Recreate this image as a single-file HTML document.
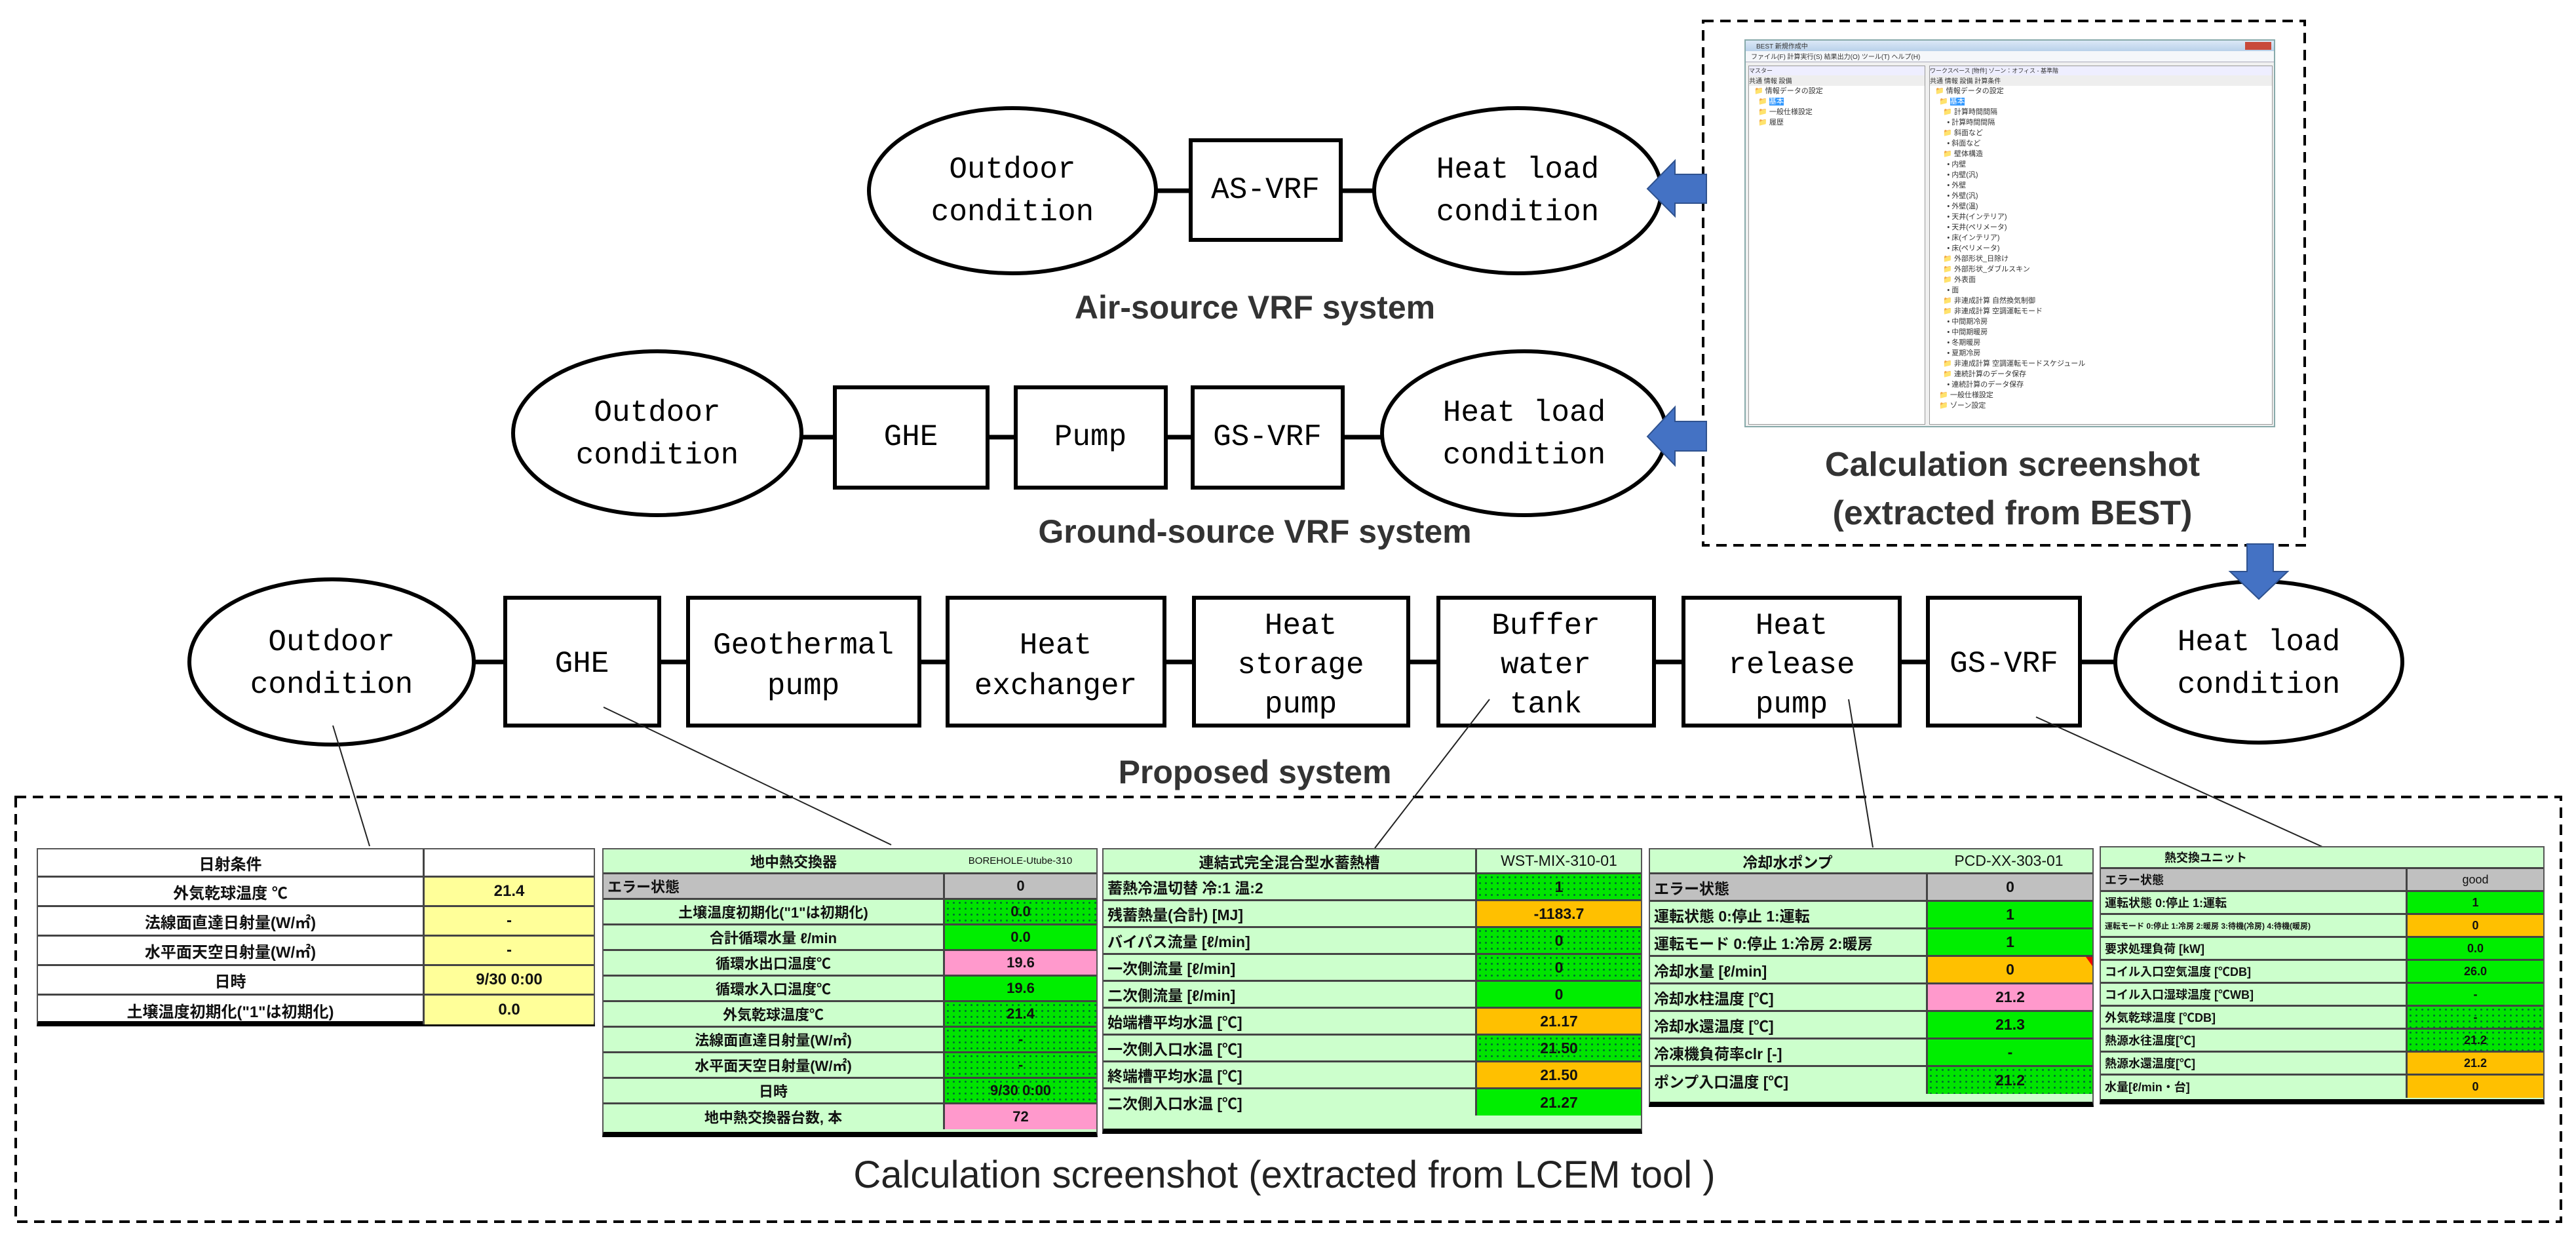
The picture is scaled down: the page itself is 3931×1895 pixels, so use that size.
<!DOCTYPE html>
<html><head><meta charset="utf-8">
<style>
*{margin:0;padding:0;box-sizing:border-box}
body{width:3931px;height:1895px;background:#fff;position:relative;overflow:hidden;font-family:"Liberation Sans","Noto Sans CJK JP",sans-serif}
svg{position:absolute;left:0;top:0}
.t{position:absolute;border:2px solid #555;border-bottom:8px solid #000;font-weight:bold;font-family:"Liberation Sans","Noto Sans CJK JP",sans-serif;color:#111}
.r{display:flex;border-bottom:3px solid #444;align-items:stretch}
.r:last-child{border-bottom:none}
.l{display:flex;align-items:center;justify-content:center;border-right:3px solid #444;white-space:nowrap;overflow:hidden}
.v{display:flex;align-items:center;justify-content:center;flex:1;white-space:nowrap}
.lg{background:#ccffcc}
.gr{background:#00ee00}
.dt{background:radial-gradient(circle,#063 1.2px,transparent 1.8px) 0 0/9px 9px,#00e400}
.pk{background:#ff99cc}
.or{background:#ffc000}
.ye{background:#ffff99}
.gy{background:#c0c0c0}
.left{justify-content:flex-start;padding-left:6px}
.best{position:absolute;left:2662px;top:60px;width:810px;height:592px;background:#f0f0f0;border:2px solid #8aa;font-family:"Liberation Sans","Noto Sans CJK JP",sans-serif;font-size:11px;color:#333}
.tree div{height:16px;line-height:16px;white-space:nowrap}
</style></head><body>
<svg width="3931" height="1895" viewBox="0 0 3931 1895" font-family="Liberation Mono, monospace">
<g stroke="#000" stroke-width="7">
<line x1="1765" y1="291" x2="2097" y2="291"/>
<line x1="1223" y1="667" x2="2109" y2="667"/>
<line x1="723" y1="1010" x2="3228" y2="1010"/>
</g>
<g fill="#fff" stroke="#000" stroke-width="6">
<ellipse cx="1545" cy="291" rx="219" ry="126"/>
<rect x="1817" y="214" width="229" height="152"/>
<ellipse cx="2316" cy="291" rx="219" ry="126"/>
<ellipse cx="1003" cy="661" rx="220" ry="125"/>
<rect x="1274" y="591" width="233" height="153"/>
<rect x="1550" y="591" width="229" height="153"/>
<rect x="1820" y="591" width="229" height="153"/>
<ellipse cx="2326" cy="661" rx="217" ry="125"/>
<ellipse cx="506" cy="1010" rx="217" ry="126"/>
<rect x="771" y="912" width="235" height="195"/>
<rect x="1050" y="912" width="353" height="195"/>
<rect x="1446" y="912" width="331" height="195"/>
<rect x="1822" y="912" width="327" height="195"/>
<rect x="2195" y="912" width="329" height="195"/>
<rect x="2569" y="912" width="330" height="195"/>
<rect x="2942" y="912" width="232" height="195"/>
<ellipse cx="3447" cy="1010" rx="219" ry="123"/>
</g>
<g font-size="46" text-anchor="middle" dominant-baseline="central" fill="#000">
<text x="1545" y="259">Outdoor</text><text x="1545" y="324">condition</text>
<text x="1931" y="290">AS-VRF</text>
<text x="2316" y="259">Heat load</text><text x="2316" y="324">condition</text>
<text x="1003" y="630">Outdoor</text><text x="1003" y="695">condition</text>
<text x="1390" y="667">GHE</text><text x="1664" y="667">Pump</text><text x="1934" y="667">GS-VRF</text>
<text x="2326" y="630">Heat load</text><text x="2326" y="695">condition</text>
<text x="506" y="980">Outdoor</text><text x="506" y="1045">condition</text>
<text x="888" y="1013">GHE</text>
<text x="1226" y="985">Geothermal</text><text x="1226" y="1047">pump</text>
<text x="1611" y="985">Heat</text><text x="1611" y="1047">exchanger</text>
<text x="1985" y="955">Heat</text><text x="1985" y="1015">storage</text><text x="1985" y="1075">pump</text>
<text x="2359" y="955">Buffer</text><text x="2359" y="1015">water</text><text x="2359" y="1075">tank</text>
<text x="2734" y="955">Heat</text><text x="2734" y="1015">release</text><text x="2734" y="1075">pump</text>
<text x="3058" y="1013">GS-VRF</text>
<text x="3447" y="980">Heat load</text><text x="3447" y="1045">condition</text>
</g>
<g font-family="Liberation Sans, sans-serif" font-weight="bold" text-anchor="middle" fill="#333">
<text x="1915" y="486" font-size="50">Air-source VRF system</text>
<text x="1915" y="828" font-size="50">Ground-source VRF system</text>
<text x="1915" y="1195" font-size="50">Proposed system</text>
<text x="3071" y="726" font-size="52">Calculation screenshot</text>
<text x="3071" y="800" font-size="52">(extracted from BEST)</text>
</g>
<text x="1960" y="1812" font-size="58" text-anchor="middle" fill="#222" font-family="Liberation Sans, sans-serif">Calculation screenshot (extracted from LCEM tool )</text>
<g fill="none" stroke="#000" stroke-width="4" stroke-dasharray="16,10">
<rect x="2599" y="32" width="918" height="800"/>
<rect x="24" y="1216" width="3884" height="648"/>
</g>
<g fill="#4472c4" stroke="#2f528f" stroke-width="2">
<polygon points="2514,288 2556,245 2556,266 2604,266 2604,310 2556,310 2556,330"/>
<polygon points="2514,666 2556,621 2556,643 2604,643 2604,688 2556,688 2556,710"/>
<polygon points="3447,914 3403,872 3429,872 3429,830 3469,830 3469,872 3491,872"/>
</g>
<g stroke="#222" stroke-width="2">
<line x1="508" y1="1107" x2="564" y2="1291"/>
<line x1="921" y1="1079" x2="1360" y2="1289"/>
<line x1="2273" y1="1067" x2="2098" y2="1294"/>
<line x1="2821" y1="1067" x2="2858" y2="1293"/>
<line x1="3107" y1="1094" x2="3544" y2="1292"/>
</g>
</svg>

<div class="best">
 <div style="height:16px;background:linear-gradient(#dbe8f6,#b9d1ea);font-size:10px;padding-left:16px">BEST 新規作成中<span style="float:right;width:40px;height:12px;background:#c84a3a;margin:2px 4px"></span></div>
 <div style="height:17px;background:#f5f7fa;border-bottom:1px solid #aab;padding-left:8px;font-size:10px">ファイル(F) 計算実行(S) 結果出力(O) ツール(T) ヘルプ(H)</div>
 <div style="position:absolute;left:4px;top:38px;width:270px;height:548px;border:1px solid #999;background:#fff">
  <div style="background:#eef;height:14px;font-size:9px">マスター</div>
  <div style="height:16px;font-size:10px;background:#eee">共通 情報 設備</div>
  <div class="tree" style="padding-left:8px"><div>📁 情報データの設定</div><div>&nbsp;&nbsp;📁 <span style="background:#39f;color:#fff">基本</span></div><div>&nbsp;&nbsp;📁 一般仕様設定</div><div>&nbsp;&nbsp;📁 履歴</div></div>
 </div>
 <div style="position:absolute;left:280px;top:38px;width:524px;height:548px;border:1px solid #999;background:#fff">
  <div style="background:#eef;height:14px;font-size:9px">ワークスペース [物件] ゾーン：オフィス - 基準階</div>
  <div style="height:16px;font-size:10px;background:#eee">共通 情報 設備 計算条件</div>
  <div class="tree" style="padding-left:8px">
  <div>📁 情報データの設定</div><div>&nbsp;&nbsp;📁 <span style="background:#39f;color:#fff">基本</span></div><div>&nbsp;&nbsp;&nbsp;&nbsp;📁 計算時間間隔</div><div>&nbsp;&nbsp;&nbsp;&nbsp;&nbsp;&nbsp;• 計算時間間隔</div><div>&nbsp;&nbsp;&nbsp;&nbsp;📁 斜面など</div><div>&nbsp;&nbsp;&nbsp;&nbsp;&nbsp;&nbsp;• 斜面など</div><div>&nbsp;&nbsp;&nbsp;&nbsp;📁 壁体構造</div><div>&nbsp;&nbsp;&nbsp;&nbsp;&nbsp;&nbsp;• 内壁</div><div>&nbsp;&nbsp;&nbsp;&nbsp;&nbsp;&nbsp;• 内壁(汎)</div><div>&nbsp;&nbsp;&nbsp;&nbsp;&nbsp;&nbsp;• 外壁</div><div>&nbsp;&nbsp;&nbsp;&nbsp;&nbsp;&nbsp;• 外壁(汎)</div><div>&nbsp;&nbsp;&nbsp;&nbsp;&nbsp;&nbsp;• 外壁(温)</div><div>&nbsp;&nbsp;&nbsp;&nbsp;&nbsp;&nbsp;• 天井(インテリア)</div><div>&nbsp;&nbsp;&nbsp;&nbsp;&nbsp;&nbsp;• 天井(ペリメータ)</div><div>&nbsp;&nbsp;&nbsp;&nbsp;&nbsp;&nbsp;• 床(インテリア)</div><div>&nbsp;&nbsp;&nbsp;&nbsp;&nbsp;&nbsp;• 床(ペリメータ)</div><div>&nbsp;&nbsp;&nbsp;&nbsp;📁 外部形状_日除け</div><div>&nbsp;&nbsp;&nbsp;&nbsp;📁 外部形状_ダブルスキン</div><div>&nbsp;&nbsp;&nbsp;&nbsp;📁 外表面</div><div>&nbsp;&nbsp;&nbsp;&nbsp;&nbsp;&nbsp;• 面</div><div>&nbsp;&nbsp;&nbsp;&nbsp;📁 非連成計算 自然換気制御</div><div>&nbsp;&nbsp;&nbsp;&nbsp;📁 非連成計算 空調運転モード</div><div>&nbsp;&nbsp;&nbsp;&nbsp;&nbsp;&nbsp;• 中間期冷房</div><div>&nbsp;&nbsp;&nbsp;&nbsp;&nbsp;&nbsp;• 中間期暖房</div><div>&nbsp;&nbsp;&nbsp;&nbsp;&nbsp;&nbsp;• 冬期暖房</div><div>&nbsp;&nbsp;&nbsp;&nbsp;&nbsp;&nbsp;• 夏期冷房</div><div>&nbsp;&nbsp;&nbsp;&nbsp;📁 非連成計算 空調運転モードスケジュール</div><div>&nbsp;&nbsp;&nbsp;&nbsp;📁 連続計算のデータ保存</div><div>&nbsp;&nbsp;&nbsp;&nbsp;&nbsp;&nbsp;• 連続計算のデータ保存</div><div>&nbsp;&nbsp;📁 一般仕様設定</div><div>&nbsp;&nbsp;📁 ゾーン設定</div>
  </div>
 </div>
</div>

<!-- Table 1 -->
<div class="t" style="left:56px;top:1294px;width:852px;height:272px;font-size:24px;background:#fff">
 <div class="r" style="height:43px"><div class="l" style="width:590px">日射条件</div><div class="v"></div></div>
 <div class="r" style="height:45px"><div class="l" style="width:590px">外気乾球温度 ℃</div><div class="v ye">21.4</div></div>
 <div class="r" style="height:45px"><div class="l" style="width:590px">法線面直達日射量(W/㎡)</div><div class="v ye">-</div></div>
 <div class="r" style="height:45px"><div class="l" style="width:590px">水平面天空日射量(W/㎡)</div><div class="v ye">-</div></div>
 <div class="r" style="height:45px"><div class="l" style="width:590px">日時</div><div class="v ye">9/30 0:00</div></div>
 <div class="r" style="height:44px"><div class="l" style="width:590px">土壌温度初期化("1"は初期化)</div><div class="v ye">0.0</div></div>
</div>

<!-- Table 2 -->
<div class="t lg" style="left:919px;top:1294px;width:756px;height:441px;font-size:22px">
 <div class="r" style="height:38px"><div class="l" style="width:520px;border-right:none;padding-left:60px">地中熱交換器</div><div class="v" style="font-size:15px;font-weight:normal">BOREHOLE-Utube-310</div></div>
 <div class="r gy" style="height:39px"><div class="l left" style="width:521px">エラー状態</div><div class="v">0</div></div>
 <div class="r" style="height:39px"><div class="l" style="width:521px">土壌温度初期化("1"は初期化)</div><div class="v dt">0.0</div></div>
 <div class="r" style="height:39px"><div class="l" style="width:521px">合計循環水量 ℓ/min</div><div class="v gr">0.0</div></div>
 <div class="r" style="height:39px"><div class="l" style="width:521px">循環水出口温度℃</div><div class="v pk">19.6</div></div>
 <div class="r" style="height:39px"><div class="l" style="width:521px">循環水入口温度℃</div><div class="v gr">19.6</div></div>
 <div class="r" style="height:39px"><div class="l" style="width:521px">外気乾球温度℃</div><div class="v dt">21.4</div></div>
 <div class="r" style="height:39px"><div class="l" style="width:521px">法線面直達日射量(W/㎡)</div><div class="v dt">-</div></div>
 <div class="r" style="height:39px"><div class="l" style="width:521px">水平面天空日射量(W/㎡)</div><div class="v dt">-</div></div>
 <div class="r" style="height:39px"><div class="l" style="width:521px">日時</div><div class="v dt">9/30 0:00</div></div>
 <div class="r" style="height:38px"><div class="l" style="width:521px">地中熱交換器台数, 本</div><div class="v pk">72</div></div>
</div>

<!-- Table 3 -->
<div class="t lg" style="left:1682px;top:1294px;width:824px;height:436px;font-size:23px">
 <div class="r" style="height:38px"><div class="l" style="width:570px">連結式完全混合型水蓄熱槽</div><div class="v" style="font-weight:normal">WST-MIX-310-01</div></div>
 <div class="r" style="height:41px"><div class="l left" style="width:570px">蓄熱冷温切替 冷:1 温:2</div><div class="v dt">1</div></div>
 <div class="r" style="height:41px"><div class="l left" style="width:570px">残蓄熱量(合計) [MJ]</div><div class="v or">-1183.7</div></div>
 <div class="r" style="height:41px"><div class="l left" style="width:570px">バイパス流量 [ℓ/min]</div><div class="v dt">0</div></div>
 <div class="r" style="height:41px"><div class="l left" style="width:570px">一次側流量 [ℓ/min]</div><div class="v dt">0</div></div>
 <div class="r" style="height:41px"><div class="l left" style="width:570px">二次側流量 [ℓ/min]</div><div class="v gr">0</div></div>
 <div class="r" style="height:41px"><div class="l left" style="width:570px">始端槽平均水温 [℃]</div><div class="v or">21.17</div></div>
 <div class="r" style="height:41px"><div class="l left" style="width:570px">一次側入口水温 [℃]</div><div class="v dt">21.50</div></div>
 <div class="r" style="height:41px"><div class="l left" style="width:570px">終端槽平均水温 [℃]</div><div class="v or">21.50</div></div>
 <div class="r" style="height:40px"><div class="l left" style="width:570px">二次側入口水温 [℃]</div><div class="v gr">21.27</div></div>
</div>

<!-- Table 4 -->
<div class="t lg" style="left:2516px;top:1294px;width:679px;height:395px;font-size:23px">
 <div class="r" style="height:38px"><div class="l" style="width:420px;border-right:none">冷却水ポンプ</div><div class="v" style="font-weight:normal">PCD-XX-303-01</div></div>
 <div class="r gy" style="height:42px"><div class="l left" style="width:424px">エラー状態</div><div class="v">0</div></div>
 <div class="r" style="height:42px"><div class="l left" style="width:424px">運転状態 0:停止 1:運転</div><div class="v gr">1</div></div>
 <div class="r" style="height:42px"><div class="l left" style="width:424px">運転モード 0:停止 1:冷房 2:暖房</div><div class="v gr">1</div></div>
 <div class="r" style="height:42px"><div class="l left" style="width:424px">冷却水量 [ℓ/min]</div><div class="v or" style="position:relative">0<span style="position:absolute;right:0;top:0;border-top:14px solid #e00;border-left:10px solid transparent"></span></div></div>
 <div class="r" style="height:42px"><div class="l left" style="width:424px">冷却水柱温度 [℃]</div><div class="v pk">21.2</div></div>
 <div class="r" style="height:42px"><div class="l left" style="width:424px">冷却水還温度 [℃]</div><div class="v gr">21.3</div></div>
 <div class="r" style="height:42px"><div class="l left" style="width:424px">冷凍機負荷率clr [-]</div><div class="v gr">-</div></div>
 <div class="r" style="height:41px"><div class="l left" style="width:424px">ポンプ入口温度 [℃]</div><div class="v dt">21.2</div></div>
</div>

<!-- Table 5 -->
<div class="t lg" style="left:3204px;top:1291px;width:679px;height:394px;font-size:18px">
 <div class="r" style="height:33px"><div class="l" style="width:320px;border-right:none">熱交換ユニット</div><div class="v"></div></div>
 <div class="r gy" style="height:35px"><div class="l left" style="width:468px">エラー状態</div><div class="v" style="font-weight:normal">good</div></div>
 <div class="r" style="height:35px"><div class="l left" style="width:468px">運転状態 0:停止 1:運転</div><div class="v gr">1</div></div>
 <div class="r" style="height:35px"><div class="l left" style="width:468px;font-size:12px">運転モード 0:停止 1:冷房 2:暖房 3:待機(冷房) 4:待機(暖房)</div><div class="v or">0</div></div>
 <div class="r" style="height:35px"><div class="l left" style="width:468px">要求処理負荷 [kW]</div><div class="v gr">0.0</div></div>
 <div class="r" style="height:35px"><div class="l left" style="width:468px">コイル入口空気温度 [℃DB]</div><div class="v gr">26.0</div></div>
 <div class="r" style="height:35px"><div class="l left" style="width:468px">コイル入口湿球温度 [℃WB]</div><div class="v gr">-</div></div>
 <div class="r" style="height:35px"><div class="l left" style="width:468px">外気乾球温度 [℃DB]</div><div class="v dt">-</div></div>
 <div class="r" style="height:35px"><div class="l left" style="width:468px">熱源水往温度[℃]</div><div class="v dt">21.2</div></div>
 <div class="r" style="height:35px"><div class="l left" style="width:468px">熱源水還温度[℃]</div><div class="v or">21.2</div></div>
 <div class="r" style="height:34px"><div class="l left" style="width:468px">水量[ℓ/min・台]</div><div class="v or">0</div></div>
</div>
</body></html>
